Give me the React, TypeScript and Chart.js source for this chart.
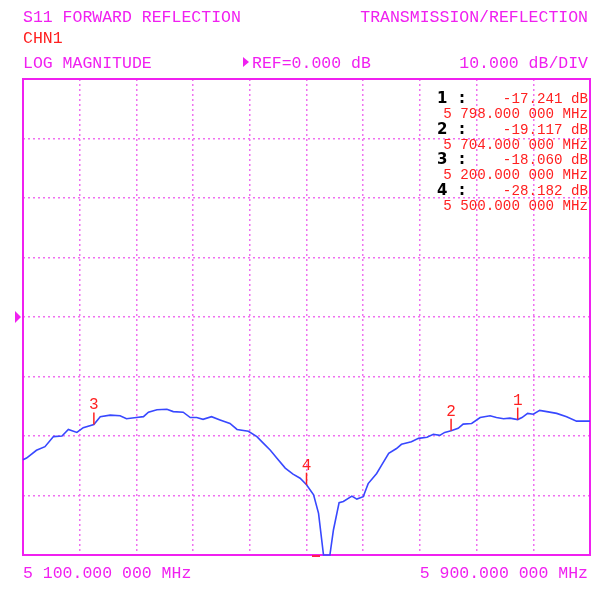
import React, { useEffect, useRef } from 'react';
import { Chart, registerables } from 'chart.js';

Chart.register(...registerables);

// ---- data ----
const freqMHz = [
  5100, 5105, 5119, 5131, 5143, 5155, 5164, 5176, 5185, 5200, 5209, 5223, 5237, 5246, 5260,
  5270, 5277, 5289, 5303, 5312, 5326, 5336, 5345, 5354, 5366, 5378, 5392, 5402, 5418, 5430,
  5439, 5449, 5458, 5470, 5481, 5491, 5500, 5510, 5517, 5524, 5533, 5538, 5546, 5552, 5564,
  5571, 5580, 5587, 5599, 5606, 5616, 5627, 5634, 5648, 5658, 5670, 5679, 5688, 5695, 5704,
  5714, 5721, 5733, 5745, 5759, 5768, 5778, 5787, 5798, 5804, 5812, 5820, 5829, 5839, 5853,
  5867, 5881, 5900,
];
const magDb = [
  -24.0, -23.7, -22.4, -21.8, -20.1, -20.0, -18.9, -19.4, -18.6, -18.06, -16.75, -16.5, -16.6, -17.1, -16.9,
  -16.75, -16.0, -15.6, -15.5, -15.9, -16.0, -16.9, -16.9, -17.2, -16.75, -17.3, -17.9, -18.9, -19.2, -20.1,
  -21.2, -22.4, -23.7, -25.4, -26.4, -27.1, -28.18, -29.9, -33.0, -40, -40, -35.8, -31.2, -31.0, -30.1,
  -30.6, -30.2, -28.0, -26.3, -24.9, -22.9, -22.1, -21.4, -20.95, -20.4, -20.2, -19.7, -19.9, -19.4, -19.12,
  -18.7, -18.0, -17.9, -16.9, -16.6, -16.9, -17.1, -17.0, -17.24, -16.9, -16.2, -16.35, -15.7, -15.9, -16.2,
  -16.75, -17.5, -17.5,
];

const markerIds = ['1', '2', '3', '4'];
const markerFreq = [5798, 5704, 5200, 5500];
const markerDb = [-17.241, -19.117, -18.06, -28.182];
const markerDbLabels = ['-17.241 dB', '-19.117 dB', '-18.060 dB', '-28.182 dB'];
const markerFreqLabels = ['5 798.000 000 MHz', '5 704.000 000 MHz', '5 200.000 000 MHz', '5 500.000 000 MHz'];

const startFreq = 5100;
const stopFreq = 5900;
const freqStep = 80;
const refDb = 0;
const dbPerDiv = 10;
const dbMin = -40;
const dbMax = 40;

const startLabel = '5 100.000 000 MHz';
const stopLabel = '5 900.000 000 MHz';
const titleLeft = 'S11 FORWARD REFLECTION';
const titleRight = 'TRANSMISSION/REFLECTION';
const channelLabel = 'CHN1';
const formatLabel = 'LOG MAGNITUDE';
const refLabel = 'REF=0.000 dB';
const scaleLabel = '10.000 dB/DIV';

const MAGENTA = '#f020f0';
const GRID = '#f070f0';
const RED = '#ff2020';
const BLUE = '#3848ff';
const MONO = '"Liberation Mono", "DejaVu Sans Mono", monospace';

const overlay = {
  id: 'overlay',
  beforeDatasetsDraw(chart: any) {
    const { ctx, chartArea: a } = chart;
    ctx.save();
    ctx.strokeStyle = MAGENTA;
    ctx.lineWidth = 2;
    ctx.strokeRect(a.left, a.top, a.right - a.left, a.bottom - a.top);
    ctx.restore();
  },
  afterDraw(chart: any) {
    const { ctx, chartArea: a, scales } = chart;
    const xs = scales.x;
    const ys = scales.y;
    ctx.save();
    // header
    ctx.fillStyle = MAGENTA;
    ctx.font = `16.5px ${MONO}`;
    ctx.textBaseline = 'alphabetic';
    ctx.textAlign = 'left';
    ctx.fillText(titleLeft, a.left, 22);
    ctx.fillText(formatLabel, a.left, 68);
    ctx.fillText(refLabel, 252, 68);
    ctx.textAlign = 'right';
    ctx.fillText(titleRight, 588, 22);
    ctx.fillText(scaleLabel, 588, 68);
    ctx.textAlign = 'left';
    ctx.fillStyle = RED;
    ctx.fillText(channelLabel, a.left, 43);

    // small arrow before REF
    ctx.fillStyle = MAGENTA;
    ctx.beginPath();
    ctx.moveTo(243, 57);
    ctx.lineTo(249, 62);
    ctx.lineTo(243, 67);
    ctx.closePath();
    ctx.fill();

    // reference arrow on left
    const ry = ys.getPixelForValue(refDb);
    ctx.beginPath();
    ctx.moveTo(15, ry - 6);
    ctx.lineTo(21, ry);
    ctx.lineTo(15, ry + 6);
    ctx.closePath();
    ctx.fill();

    // bottom labels
    ctx.font = `16.5px ${MONO}`;
    ctx.fillStyle = MAGENTA;
    ctx.textAlign = 'left';
    ctx.fillText(startLabel, a.left, 578);
    ctx.textAlign = 'right';
    ctx.fillText(stopLabel, 588, 578);

    // marker table
    for (let i = 0; i < markerIds.length; i++) {
      const b1 = 103 + i * 30.7;
      const b2 = b1 + 15;
      ctx.fillStyle = '#000';
      ctx.textAlign = 'left';
      ctx.font = `bold 15px "DejaVu Sans", sans-serif`;
      ctx.fillText(markerIds[i], 437, b1);
      ctx.fillText(':', 459, b1);
      ctx.fillStyle = RED;
      ctx.font = `14.2px ${MONO}`;
      ctx.textAlign = 'right';
      ctx.fillText(markerDbLabels[i], 588, b1);
      ctx.fillText(markerFreqLabels[i], 588, b2);
    }

    // markers on trace
    ctx.strokeStyle = RED;
    ctx.fillStyle = RED;
    ctx.lineWidth = 1.5;
    ctx.font = `16px ${MONO}`;
    ctx.textAlign = 'center';
    for (let i = 0; i < markerIds.length; i++) {
      const px = xs.getPixelForValue(markerFreq[i]);
      const py = ys.getPixelForValue(markerDb[i]);
      ctx.beginPath();
      ctx.moveTo(px, py);
      ctx.lineTo(px, py - 12);
      ctx.stroke();
      ctx.fillText(markerIds[i], px, py - 15);
    }

    // small red stimulus dash at bottom
    ctx.fillStyle = '#ff2050';
    ctx.fillRect(312, a.bottom, 8, 2);
    ctx.restore();
  },
};

export default function App() {
  const ref = useRef<HTMLCanvasElement | null>(null);
  useEffect(() => {
    if (!ref.current) return;
    const chart = new Chart(ref.current, {
      type: 'line',
      data: {
        datasets: [
          {
            data: freqMHz.map((f, i) => ({ x: f, y: magDb[i] })),
            borderColor: BLUE,
            borderWidth: 1.6,
            pointRadius: 0,
            tension: 0,
            fill: false,
            clip: 3,
          },
        ],
      },
      options: {
        animation: false,
        responsive: false,
        events: [],
        layout: { padding: { left: 23, right: 7, top: 79, bottom: 39 } },
        plugins: { legend: { display: false }, tooltip: { enabled: false }, title: { display: false } },
        scales: {
          x: {
            type: 'linear',
            min: startFreq,
            max: stopFreq,
            ticks: { display: false, stepSize: freqStep },
            grid: { color: GRID, lineWidth: 1.5, drawTicks: false },
            border: { display: false, dash: [2, 3] },
          },
          y: {
            type: 'linear',
            min: dbMin,
            max: dbMax,
            ticks: { display: false, stepSize: dbPerDiv },
            grid: { color: GRID, lineWidth: 1.5, drawTicks: false },
            border: { display: false, dash: [2, 3] },
          },
        },
      },
      plugins: [overlay],
    });
    return () => chart.destroy();
  }, []);
  return (
    <div style={{ position: 'fixed', left: 0, top: 0, width: 597, height: 594, background: '#fff' }}>
      <canvas ref={ref} width={597} height={594} style={{ width: 597, height: 594, display: 'block' }} />
    </div>
  );
}
